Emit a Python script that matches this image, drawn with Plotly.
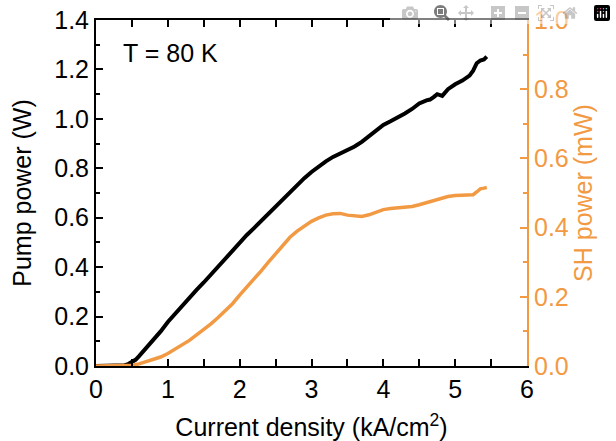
import plotly.graph_objects as go

# Pump power (W) vs current density (kA/cm^2)
pump_x = [0.0, 0.1, 0.2, 0.3, 0.4, 0.45, 0.5, 0.55, 0.6, 0.7, 0.8, 0.9, 1.0, 1.1, 1.2, 1.3, 1.4, 1.5,
          1.6, 1.7, 1.8, 1.9, 2.0, 2.1, 2.2, 2.3, 2.4, 2.5, 2.6, 2.7, 2.8, 2.9, 3.0, 3.1, 3.2, 3.3,
          3.4, 3.5, 3.6, 3.7, 3.8, 3.9, 4.0, 4.1, 4.2, 4.3, 4.4, 4.5, 4.6, 4.65, 4.7, 4.75, 4.82,
          4.9, 5.0, 5.1, 5.2, 5.25, 5.3, 5.35, 5.4, 5.44]
pump_w = [0.0, 0.0, 0.0, 0.0, 0.003, 0.008, 0.015, 0.025, 0.04, 0.072, 0.105, 0.14, 0.178, 0.212,
          0.245, 0.278, 0.308, 0.338, 0.37, 0.402, 0.435, 0.468, 0.50, 0.53, 0.558, 0.587, 0.616,
          0.645, 0.675, 0.705, 0.735, 0.76, 0.785, 0.808, 0.828, 0.846, 0.86, 0.873, 0.888, 0.907,
          0.93, 0.955, 0.975, 0.99, 1.005, 1.022, 1.04, 1.062, 1.075, 1.078, 1.088, 1.10, 1.093,
          1.12, 1.14, 1.155, 1.175, 1.195, 1.225, 1.236, 1.24, 1.252]

# SH power (mW) vs current density (kA/cm^2)
sh_x = [0.0, 0.2, 0.4, 0.5, 0.6, 0.7, 0.8, 0.9, 1.0, 1.1, 1.2, 1.3, 1.4, 1.5, 1.6, 1.7, 1.8, 1.9,
        2.0, 2.1, 2.2, 2.3, 2.4, 2.5, 2.6, 2.7, 2.8, 2.9, 3.0, 3.1, 3.2, 3.3, 3.4, 3.5, 3.6, 3.7,
        3.8, 3.9, 4.0, 4.1, 4.2, 4.3, 4.4, 4.5, 4.6, 4.7, 4.8, 4.9, 5.0, 5.1, 5.2, 5.25, 5.3, 5.35,
        5.4, 5.44]
sh_mw = [0.0, 0.0, 0.0, 0.002, 0.006, 0.012, 0.018, 0.026, 0.036, 0.048, 0.06, 0.074, 0.09, 0.105,
         0.122, 0.14, 0.16, 0.18, 0.205, 0.228, 0.25, 0.275, 0.30, 0.325, 0.35, 0.372, 0.39, 0.405,
         0.418, 0.428, 0.436, 0.44, 0.441, 0.436, 0.433, 0.432, 0.437, 0.445, 0.452, 0.455, 0.457,
         0.459, 0.461, 0.466, 0.472, 0.478, 0.485, 0.49, 0.493, 0.494, 0.494, 0.495, 0.503, 0.512,
         0.514, 0.516]

x_ticks = [0, 1, 2, 3, 4, 5, 6]
y_ticks = [0.0, 0.2, 0.4, 0.6, 0.8, 1.0, 1.2, 1.4]
y2_ticks = [0.0, 0.2, 0.4, 0.6, 0.8, 1.0]

ORANGE = "#F29A43"
FONT = "Liberation Sans, Arial, sans-serif"

fig = go.Figure()
fig.add_trace(go.Scatter(x=pump_x, y=pump_w, mode="lines",
                         line=dict(color="black", width=4), yaxis="y", showlegend=False))
fig.add_trace(go.Scatter(x=sh_x, y=sh_mw, mode="lines",
                         line=dict(color=ORANGE, width=3.5), yaxis="y2", showlegend=False))

axis_common = dict(showgrid=False, zeroline=False, automargin=False)

fig.update_layout(
    width=616, height=441,
    margin=dict(l=96, r=89, t=20, b=75),
    paper_bgcolor="white", plot_bgcolor="white",
    font=dict(family=FONT, size=25, color="black"),
    xaxis=dict(
        range=[0, 6], tickvals=x_ticks, ticktext=[str(v) for v in x_ticks], **axis_common,
        showline=True, linecolor="black", linewidth=2, mirror="allticks",
        ticks="inside", ticklen=7, tickwidth=2, tickcolor="black",
        minor=dict(dtick=0.5, ticks="inside", ticklen=4, tickwidth=2, tickcolor="black"),
        tickfont=dict(size=25), ticklabeloverflow="allow",
        title=dict(text="Current density (kA/cm<sup>2</sup>)", font=dict(size=25), standoff=17),
    ),
    yaxis=dict(
        range=[0, 1.4], tickvals=y_ticks, ticktext=[f"{v:.1f}" for v in y_ticks], **axis_common,
        showline=True, linecolor="black", linewidth=2,
        ticks="inside", ticklen=7, tickwidth=2, tickcolor="black",
        minor=dict(dtick=0.1, ticks="inside", ticklen=4, tickwidth=2, tickcolor="black"),
        tickfont=dict(size=25), ticklabeloverflow="allow",
        title=dict(text="Pump power (W)", font=dict(size=25), standoff=15),
    ),
    yaxis2=dict(
        range=[0, 1.0], tickvals=y2_ticks, ticktext=[f"{v:.1f}" for v in y2_ticks],
        overlaying="y", side="right", **axis_common,
        showline=True, linecolor=ORANGE, linewidth=2,
        ticks="inside", ticklen=7, tickwidth=2, tickcolor=ORANGE,
        minor=dict(dtick=0.1, ticks="inside", ticklen=4, tickwidth=2, tickcolor=ORANGE),
        tickfont=dict(size=25, color=ORANGE), ticklabeloverflow="allow",
        title=dict(text="SH power (mW)", font=dict(size=25, color=ORANGE), standoff=6),
    ),
    annotations=[dict(
        text="T = 80 K", xref="paper", yref="paper", x=0.059, y=0.905,
        xanchor="left", yanchor="middle", showarrow=False, font=dict(size=25, color="black"),
    )],
)

fig.write_html("out.html", post_script="document.body.style.margin='0px';")
